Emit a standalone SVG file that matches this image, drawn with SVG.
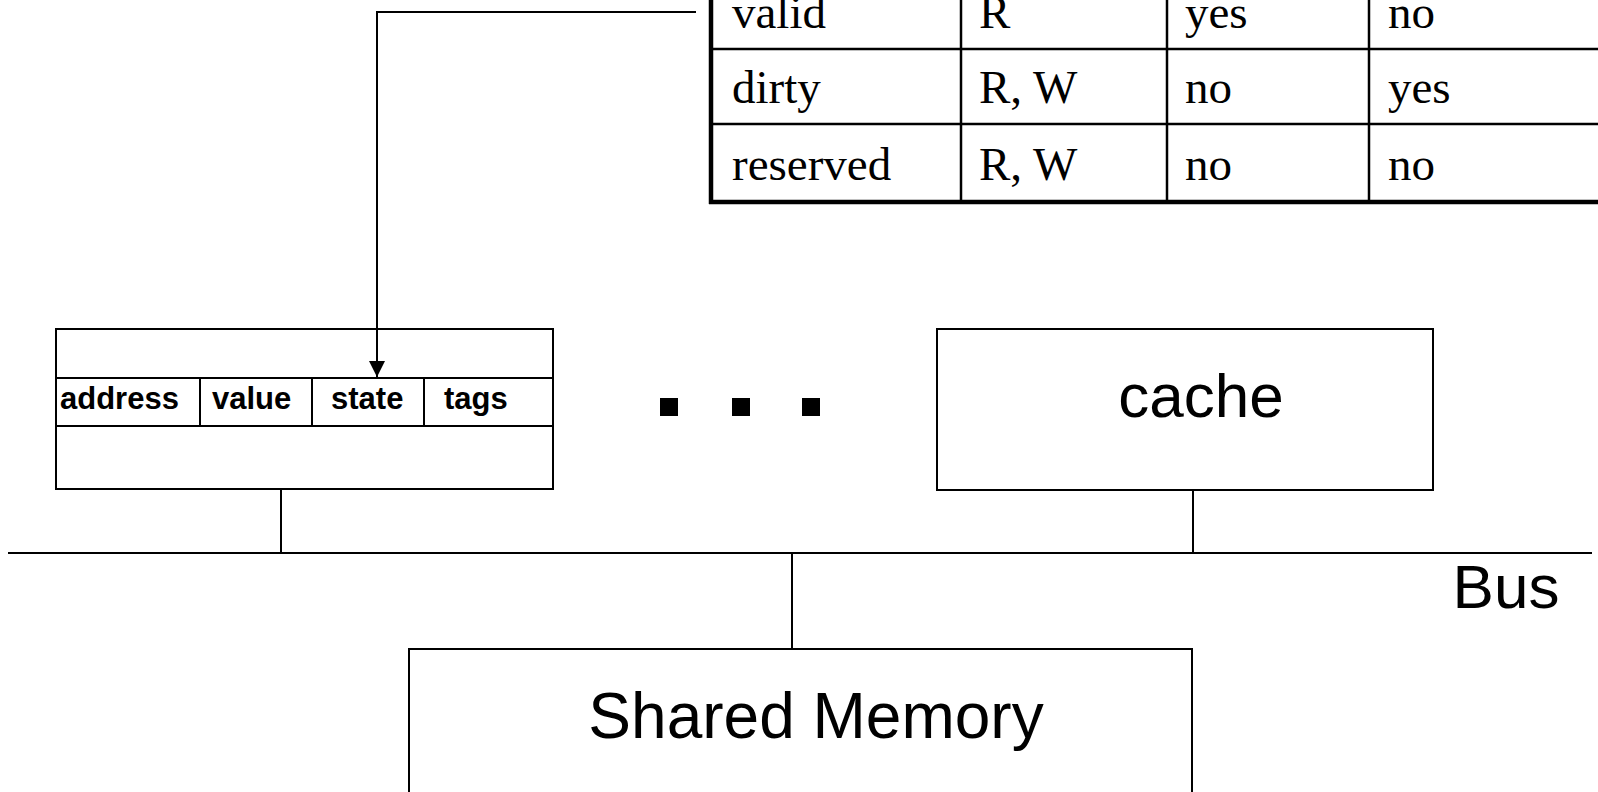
<svg xmlns="http://www.w3.org/2000/svg" width="1598" height="792" viewBox="0 0 1598 792">
<style>
.box{fill:#fff;stroke:#000;stroke-width:2}
.ln{stroke:#000;stroke-width:2;fill:none}
.tl{stroke:#000;stroke-width:2.5}
.tb{stroke:#000;stroke-width:4.5}
.tt{font-family:"Liberation Serif","Times New Roman",serif;font-size:47px;fill:#000}
.cf{font-family:"Liberation Sans",Arial,sans-serif;font-size:31px;font-weight:bold;fill:#000}
.big{font-family:"Liberation Sans",Arial,sans-serif;font-size:62px;fill:#000}
</style>
<defs>
<marker id="arr" viewBox="0 0 16 16" refX="16" refY="8" markerWidth="16" markerHeight="16" markerUnits="userSpaceOnUse" orient="auto">
<path d="M0,0 L16,8 L0,16 Z" fill="#000"/>
</marker>
</defs>
<rect width="1598" height="792" fill="#fff"/>
<g id="state-table">
<rect x="710" y="-40" width="900" height="242" fill="#fff"/>
<line class="tl" x1="710" y1="49" x2="1598" y2="49"/>
<line class="tl" x1="710" y1="124" x2="1598" y2="124"/>
<line class="tl" x1="961" y1="-10" x2="961" y2="202"/>
<line class="tl" x1="1167" y1="-10" x2="1167" y2="202"/>
<line class="tl" x1="1369" y1="-10" x2="1369" y2="202"/>
<line class="tb" x1="711" y1="-10" x2="711" y2="204"/>
<line class="tb" x1="709" y1="202" x2="1598" y2="202"/>
<text class="tt" x="732" y="28">valid</text>
<text class="tt" x="979" y="28">R</text>
<text class="tt" x="1185" y="28">yes</text>
<text class="tt" x="1388" y="28">no</text>
<text class="tt" x="732" y="103">dirty</text>
<text class="tt" x="979" y="103">R, W</text>
<text class="tt" x="1185" y="103">no</text>
<text class="tt" x="1388" y="103">yes</text>
<text class="tt" x="732" y="180">reserved</text>
<text class="tt" x="979" y="180">R, W</text>
<text class="tt" x="1185" y="180">no</text>
<text class="tt" x="1388" y="180">no</text>
</g>
<g id="cache-left">
<rect class="box" x="56" y="329" width="497" height="160"/>
<line class="ln" x1="56" y1="378" x2="553" y2="378"/>
<line class="ln" x1="56" y1="426" x2="553" y2="426"/>
<line class="ln" x1="200" y1="378" x2="200" y2="426"/>
<line class="ln" x1="312" y1="378" x2="312" y2="426"/>
<line class="ln" x1="424" y1="378" x2="424" y2="426"/>
<text class="cf" x="60" y="409">address</text>
<text class="cf" x="212" y="409">value</text>
<text class="cf" x="331" y="409">state</text>
<text class="cf" x="444" y="409">tags</text>
</g>
<g id="ellipsis">
<rect x="660" y="398" width="18" height="18" fill="#000"/>
<rect x="732" y="398" width="18" height="18" fill="#000"/>
<rect x="802" y="398" width="18" height="18" fill="#000"/>
</g>
<g id="cache-right">
<rect class="box" x="937" y="329" width="496" height="161"/>
<text class="big" x="1201" y="417" text-anchor="middle">cache</text>
</g>
<g id="shared-memory">
<rect class="box" x="409" y="649" width="783" height="200"/>
<text class="big" x="816" y="738" text-anchor="middle" style="font-size:64px">Shared Memory</text>
</g>
<g id="bus">
<line class="ln" x1="8" y1="553" x2="1592" y2="553"/>
<text class="big" x="1506" y="608" text-anchor="middle">Bus</text>
</g>
<g id="connectors">
<polyline class="ln" points="696,12 377,12 377,377" marker-end="url(#arr)"/>
<line class="ln" x1="281" y1="489" x2="281" y2="553"/>
<line class="ln" x1="1193" y1="490" x2="1193" y2="553"/>
<line class="ln" x1="792" y1="553" x2="792" y2="649"/>
</g>
</svg>
